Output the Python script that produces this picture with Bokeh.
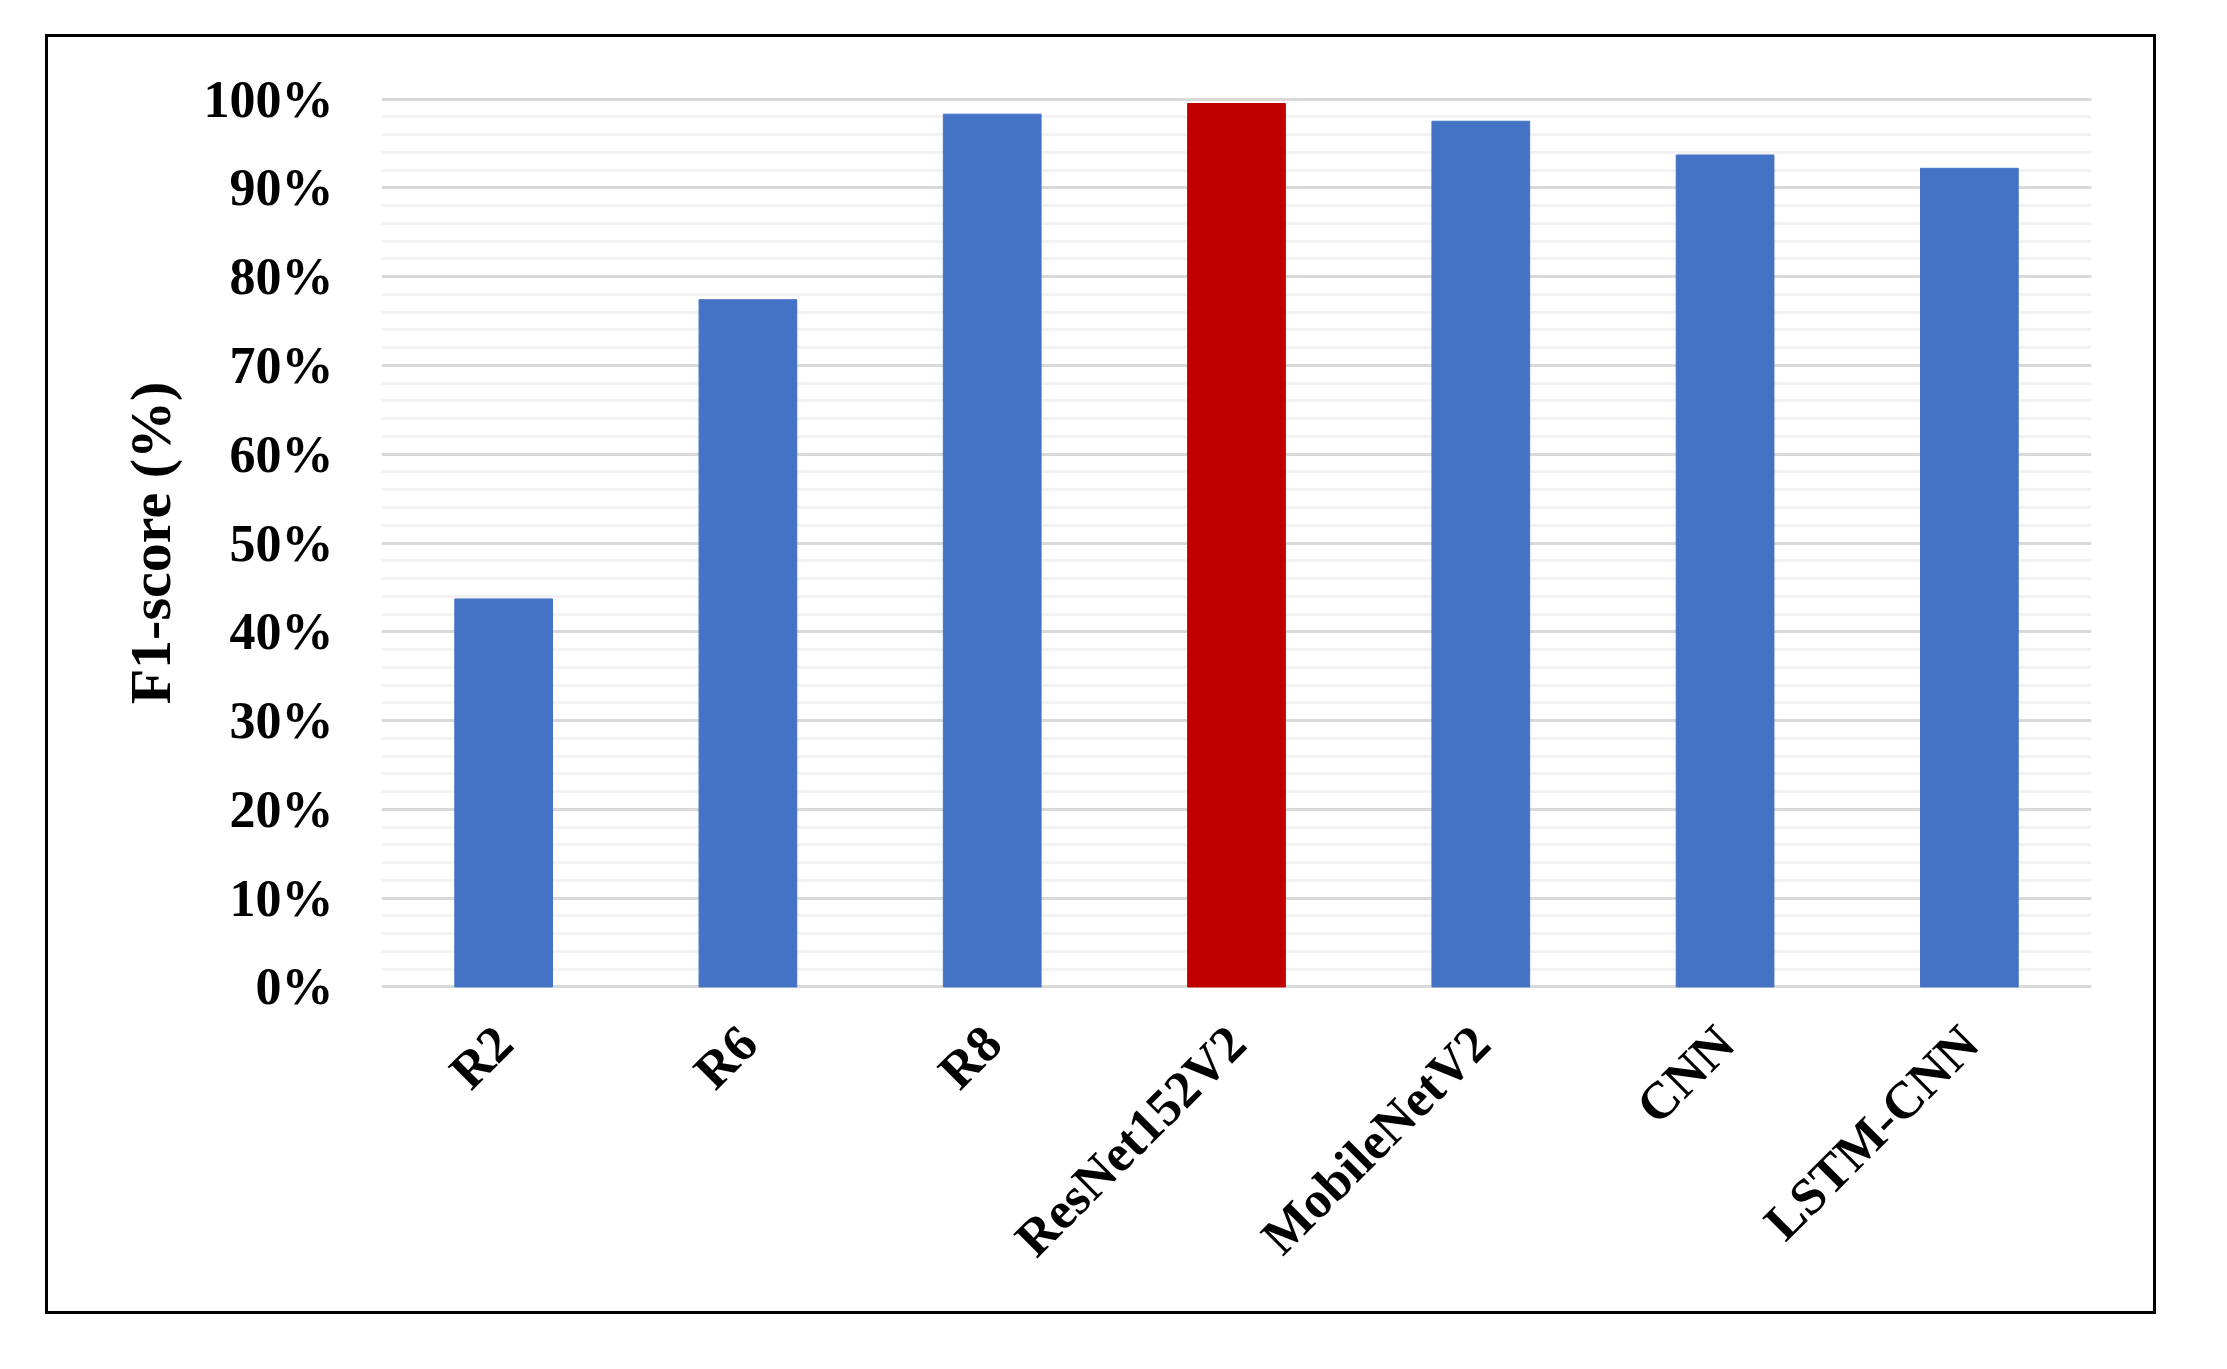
import math
from bokeh.plotting import figure
from bokeh.models import (ColumnDataSource, FactorRange, Range1d, SingleIntervalTicker,
                          NumeralTickFormatter)
from bokeh.embed import file_html
from bokeh.resources import INLINE

categories = ["R2", "R6", "R8", "ResNet152V2", "MobileNetV2", "CNN", "LSTM-CNN"]
f1_scores = [0.437, 0.774, 0.983, 0.995, 0.975, 0.937, 0.922]
bar_colors = ["#4472C4", "#4472C4", "#4472C4", "#C00000", "#4472C4", "#4472C4", "#4472C4"]

FONT = "Liberation Serif"

# figure fills the inside of the black outer box of the reference
W, H = 2105, 1274
frame_left, frame_right, frame_top, frame_bottom = 333, 2043, 58, 953

p = figure(x_range=FactorRange(*categories, range_padding=0),
           y_range=Range1d(-0.004, 1.004),
           width=W, height=H, output_backend="svg", toolbar_location=None,
           min_border_left=frame_left, min_border_right=W - frame_right,
           min_border_top=frame_top, min_border_bottom=H - frame_bottom)
p.outline_line_color = None
p.margin = (37, 0, 0, 48)
p.styles = {"outline": "3px solid black", "outline-offset": "0px"}

src = ColumnDataSource(dict(cat=categories, val=f1_scores, color=bar_colors))
p.vbar(x="cat", top="val", bottom=0, width=0.4, color="color", source=src)

# grid
p.xgrid.grid_line_color = None
p.yaxis.ticker = SingleIntervalTicker(interval=0.1, num_minor_ticks=5)
p.ygrid.grid_line_color = "#d9d9d9"
p.ygrid.grid_line_width = 3
p.ygrid.minor_grid_line_color = "#f2f2f2"
p.ygrid.minor_grid_line_width = 3
p.ygrid.level = "underlay"

# y axis
p.yaxis.formatter = NumeralTickFormatter(format="0%")
p.yaxis.axis_line_color = None
p.yaxis.major_tick_line_color = None
p.yaxis.minor_tick_line_color = None
p.yaxis.major_tick_out = 0
p.yaxis.minor_tick_out = 0
p.yaxis.major_label_standoff = 48
p.yaxis.major_label_text_font = FONT
p.yaxis.major_label_text_font_style = "bold"
p.yaxis.major_label_text_font_size = "52px"
p.yaxis.major_label_text_color = "black"
p.yaxis.axis_label = "F1-score (%)"
p.yaxis.axis_label_text_font = FONT
p.yaxis.axis_label_text_font_style = "bold"
p.yaxis.axis_label_text_font_size = "58px"
p.yaxis.axis_label_text_color = "black"
p.yaxis.axis_label_standoff = 18

# x axis
p.xaxis.axis_line_color = None
p.xaxis.major_tick_line_color = None
p.xaxis.major_tick_out = 0
p.xaxis.major_label_orientation = math.pi / 4
p.xaxis.major_label_standoff = 44
p.xaxis.major_label_text_font = FONT
p.xaxis.major_label_text_font_style = "bold"
p.xaxis.major_label_text_font_size = "52px"
p.xaxis.major_label_text_color = "black"

open("out.html", "w").write(file_html(p, INLINE))
